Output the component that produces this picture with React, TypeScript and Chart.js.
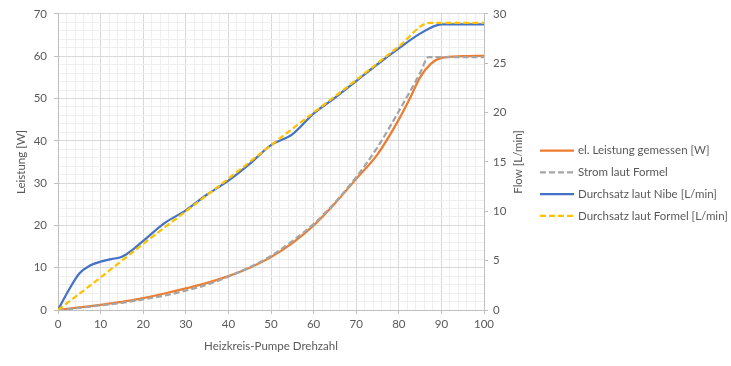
import React, { useEffect, useRef } from 'react';
import { Chart, registerables } from 'chart.js';

Chart.register(...registerables);

// ---- data ----
const seriesLabels = [
  'el. Leistung gemessen [W]',
  'Strom laut Formel',
  'Durchsatz laut Nibe [L/min]',
  'Durchsatz laut Formel [L/min]',
];

const xAxisTitle = 'Heizkreis-Pumpe Drehzahl';
const yLeftTitle = 'Leistung [W]';
const yRightTitle = 'Flow [L/min]';

const elLeistungX = [0, 5, 10, 15, 20, 25, 30, 35, 40, 45, 50, 55, 60, 65, 70, 75, 80, 82.5, 85, 87.5, 90, 95, 100];
const elLeistungW = [0, 0.6, 1.2, 1.9, 2.8, 3.9, 5.1, 6.4, 8.0, 10.0, 12.5, 15.8, 20.0, 25.2, 31.0, 36.8, 45.0, 49.8, 55.0, 58.2, 59.6, 60.0, 60.1];

const stromFormelX = [0, 5, 10, 15, 20, 25, 30, 35, 40, 45, 50, 55, 60, 65, 70, 75, 80, 85, 87, 90, 95, 100];
const stromFormelW = [0, 0.5, 1.1, 1.7, 2.5, 3.4, 4.6, 6.0, 7.9, 10.1, 12.8, 16.3, 20.3, 25.4, 31.4, 38.5, 47.0, 56.0, 59.8, 59.8, 59.8, 59.8];

const nibeX = [0, 2.5, 5, 7.5, 10, 12.5, 15, 17.5, 20, 25, 30, 35, 40, 45, 50, 55, 60, 65, 70, 75, 80, 85, 90, 95, 100];
const nibeFlow = [0, 2.0, 3.7, 4.5, 4.9, 5.15, 5.4, 6.1, 7.0, 8.8, 10.1, 11.7, 13.1, 14.8, 16.7, 17.8, 19.9, 21.5, 23.2, 24.9, 26.5, 28.0, 28.95, 28.95, 28.95];

const formelFlowX = [0, 10, 20, 30, 40, 50, 60, 70, 80, 87.3, 90, 100];
const formelFlow = [0, 3.3, 6.7, 10.0, 13.3, 16.7, 20.0, 23.3, 26.7, 29.1, 29.1, 29.1];

// ---- style ----
const FONT = 'Lato, "Open Sans", sans-serif';
const FSIZE = 11.5;
const TEXT = '#595959';
const MAJOR = '#d9d9d9';
const MINOR = '#efefef';
const AXIS = '#bfbfbf';

const toPts = (xs: number[], ys: number[]) => xs.map((x, i) => ({ x, y: ys[i] }));

const sideLegend = {
  id: 'sideLegend',
  afterDraw(chart: any) {
    const ctx = chart.ctx;
    const area = chart.chartArea;
    ctx.save();
    // right axis title, reading upward
    ctx.font = `${FSIZE}px ${FONT}`;
    ctx.fillStyle = TEXT;
    ctx.textAlign = 'center';
    ctx.textBaseline = 'middle';
    ctx.translate(518, (area.top + area.bottom) / 2);
    ctx.rotate(-Math.PI / 2);
    ctx.fillText(yRightTitle, 0, 0);
    ctx.restore();

    chart.data.datasets.forEach((ds: any, i: number) => {
      const y = 150.5 + i * 21.8;
      ctx.save();
      ctx.strokeStyle = ds.borderColor;
      ctx.lineWidth = ds.borderWidth;
      ctx.setLineDash(ds.borderDash || []);
      ctx.beginPath();
      ctx.moveTo(540, y);
      ctx.lineTo(574, y);
      ctx.stroke();
      ctx.setLineDash([]);
      ctx.fillStyle = TEXT;
      ctx.font = `${FSIZE}px ${FONT}`;
      ctx.textAlign = 'left';
      ctx.textBaseline = 'middle';
      ctx.fillText(ds.label, 578, y);
      ctx.restore();
    });
  },
};

const isMajor = (v: number) => Math.abs(Math.round(v) % 10) === 0 && Math.abs(v - Math.round(v)) < 1e-6;

export default function App() {
  const ref = useRef<HTMLCanvasElement>(null);

  useEffect(() => {
    const font = { family: FONT, size: FSIZE };
    const chart = new Chart(ref.current as HTMLCanvasElement, {
      type: 'line',
      data: {
        datasets: [
          {
            label: seriesLabels[0],
            data: toPts(elLeistungX, elLeistungW),
            yAxisID: 'y',
            borderColor: '#ED7D31',
            backgroundColor: '#ED7D31',
            borderWidth: 2.25,
            pointRadius: 0,
            cubicInterpolationMode: 'monotone',
            fill: false,
            order: 4,
          },
          {
            label: seriesLabels[1],
            data: toPts(stromFormelX, stromFormelW),
            yAxisID: 'y',
            borderColor: '#A5A5A5',
            backgroundColor: '#A5A5A5',
            borderWidth: 2.25,
            borderDash: [6, 3],
            pointRadius: 0,
            cubicInterpolationMode: 'monotone',
            fill: false,
            order: 3,
          },
          {
            label: seriesLabels[2],
            data: toPts(nibeX, nibeFlow),
            yAxisID: 'y1',
            borderColor: '#4472C4',
            backgroundColor: '#4472C4',
            borderWidth: 2.25,
            pointRadius: 0,
            cubicInterpolationMode: 'monotone',
            fill: false,
            order: 2,
          },
          {
            label: seriesLabels[3],
            data: toPts(formelFlowX, formelFlow),
            yAxisID: 'y1',
            borderColor: '#FFC000',
            backgroundColor: '#FFC000',
            borderWidth: 2.25,
            borderDash: [6, 3],
            pointRadius: 0,
            cubicInterpolationMode: 'monotone',
            fill: false,
            order: 1,
          },
        ] as any,
      },
      options: {
        responsive: false,
        animation: false,
        layout: { padding: { left: 0, top: 13, right: 203, bottom: 0 } },
        plugins: {
          legend: { display: false },
          tooltip: { enabled: false },
        },
        scales: {
          x: {
            type: 'linear',
            min: 0,
            max: 100,
            afterFit: (s: any) => { s.height = 56; },
            border: { color: AXIS },
            grid: {
              color: (c: any) => (c.tick && isMajor(c.tick.value) ? MAJOR : MINOR),
              tickColor: (c: any) => (c.tick && isMajor(c.tick.value) ? AXIS : 'rgba(0,0,0,0)'),
              tickLength: 4,
            },
            ticks: {
              stepSize: 2,
              autoSkip: false,
              maxRotation: 0,
              padding: 3,
              color: TEXT,
              font,
              callback: (v: any) => (isMajor(Number(v)) ? String(v) : ''),
            },
            title: {
              display: true,
              text: xAxisTitle,
              color: TEXT,
              font,
              padding: { top: 0, bottom: 13 },
            },
          },
          y: {
            type: 'linear',
            position: 'left',
            min: 0,
            max: 70,
            afterFit: (s: any) => { s.width = 58; },
            border: { color: AXIS },
            grid: {
              color: (c: any) => (c.tick && isMajor(c.tick.value) ? MAJOR : MINOR),
              tickColor: (c: any) => (c.tick && isMajor(c.tick.value) ? AXIS : 'rgba(0,0,0,0)'),
              tickLength: 4,
            },
            ticks: {
              stepSize: 2,
              autoSkip: false,
              padding: 7,
              color: TEXT,
              font,
              callback: (v: any) => (isMajor(Number(v)) ? String(v) : ''),
            },
            title: {
              display: true,
              text: yLeftTitle,
              color: TEXT,
              font,
              padding: { top: 14, bottom: 0 },
            },
          },
          y1: {
            type: 'linear',
            position: 'right',
            min: 0,
            max: 30,
            afterFit: (s: any) => { s.width = 44; },
            border: { color: AXIS },
            grid: {
              drawOnChartArea: false,
              tickColor: AXIS,
              tickLength: 4,
            },
            ticks: {
              stepSize: 5,
              autoSkip: false,
              padding: 5,
              color: TEXT,
              font,
            },
          },
        },
      } as any,
      plugins: [sideLegend],
    });
    return () => chart.destroy();
  }, []);

  return (
    <canvas
      ref={ref}
      width={731}
      height={366}
      style={{ position: 'absolute', left: 0, top: 0, display: 'block', width: 731, height: 366 }}
    />
  );
}
